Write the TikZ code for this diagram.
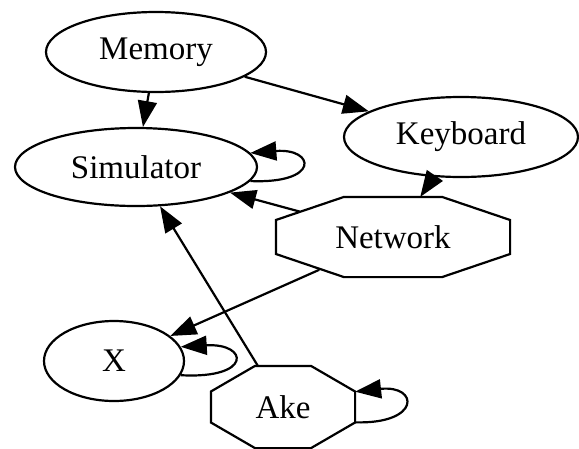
\documentclass[tikz,border=0pt]{standalone}
\usepackage{fontspec}
\setmainfont{Liberation Serif}
\usetikzlibrary{shapes.geometric,arrows.meta}

\begin{document}
\begin{tikzpicture}[x=1pt,y=-1pt,line width=2.2pt,
  font=\fontsize{33}{40}\selectfont,
  ell/.style={draw,ellipse,inner sep=0pt},
  octbox/.style={rectangle,inner sep=0pt},
  arr/.style={-{Triangle[length=26pt,width=19pt]}}]
  \useasboundingbox (0,0) rectangle (579,448);

  \node[ell,minimum width=220pt,minimum height=80pt] (memory) at (156,52) {Memory};
  \node[ell,minimum width=242pt,minimum height=78pt] (simulator) at (136,167) {Simulator};
  \node[ell,minimum width=234pt,minimum height=80pt] (keyboard) at (461,137) {Keyboard};
  \node[octbox,minimum width=232pt,minimum height=78pt] (network) at (393,237) {Network};
  \node[ell,minimum width=140pt,minimum height=80pt] (x) at (114,361) {X};
  \node[octbox,minimum width=142pt,minimum height=80pt] (ake) at (283,407) {Ake};

  % octagon outlines
  \draw ([xshift=-49pt]network.north) -- ([xshift=49pt]network.north)
     -- ([yshift=17pt]network.east) -- ([yshift=-17pt]network.east)
     -- ([xshift=49pt]network.south) -- ([xshift=-49pt]network.south)
     -- ([yshift=-17pt]network.west) -- ([yshift=17pt]network.west) -- cycle;
  \draw ([xshift=-28pt]ake.north) -- ([xshift=28pt]ake.north)
     -- ([yshift=15.5pt]ake.east) -- ([yshift=-15.5pt]ake.east)
     -- ([xshift=28pt]ake.south) -- ([xshift=-28pt]ake.south)
     -- ([yshift=-15.5pt]ake.west) -- ([yshift=15.5pt]ake.west) -- cycle;

  \draw[arr] (memory) -- (simulator);
  \draw[arr] (memory) -- (keyboard);
  \draw[arr] (keyboard) -- (network);
  \draw[arr,shorten <=-25pt] (network) -- (simulator);
  \draw[arr,shorten <=-18pt] (network) -- (x);
  \draw[arr] (ake) -- (simulator);

  % loops
  \draw[arr] (simulator.-7.5) .. controls +(70,3) and +(65,-5) .. (simulator.7.5);
  \draw[arr] (x.-12.8) .. controls +(72,4) and +(68,-4) .. (x.12.8);
  \draw[arr] (ake.-12.7) .. controls +(66,2) and +(64,-7) .. (ake.12.7);
\end{tikzpicture}
\end{document}
